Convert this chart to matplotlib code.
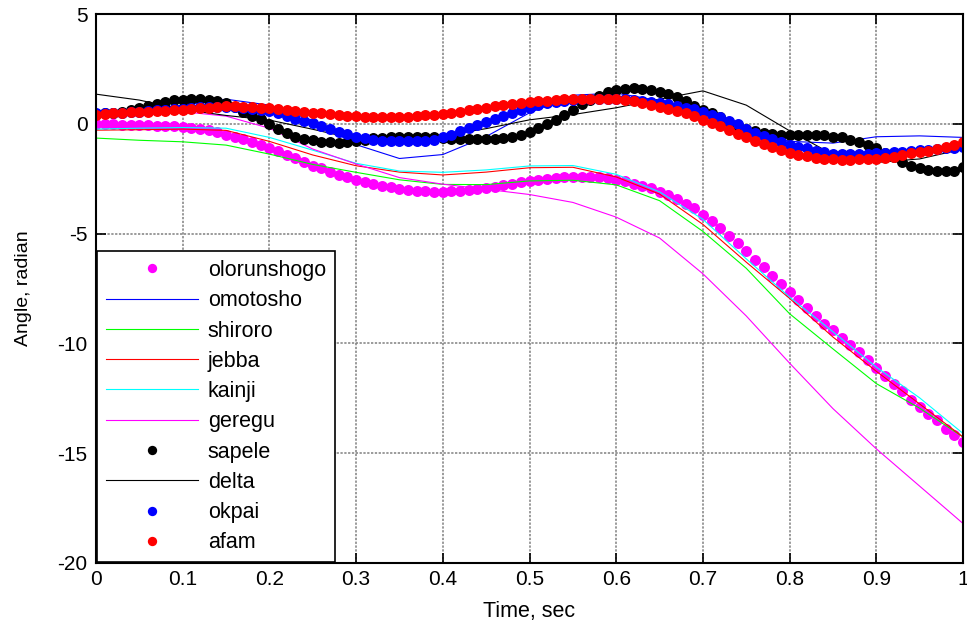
import numpy as np
import matplotlib.pyplot as plt

plt.rcParams['font.family'] = ['Liberation Sans', 'DejaVu Sans']
plt.rcParams['axes.unicode_minus'] = False

# temps (s) : points tous les 0.01 s pour les courbes a marqueurs, 0.05 s pour les lignes
t_dots = np.arange(101) * 0.01
t_line = np.arange(21) * 0.05

olorunshogo = [
    -0.02, -0.02, -0.03, -0.04, -0.05, -0.06, -0.07, -0.09, -0.10, -0.12,
    -0.13, -0.17, -0.22, -0.30, -0.38, -0.50, -0.60, -0.70, -0.84, -0.98,
    -1.12, -1.25, -1.40, -1.55, -1.72, -1.90, -2.02, -2.18, -2.32, -2.42,
    -2.54, -2.64, -2.74, -2.82, -2.90, -2.97, -3.02, -3.05, -3.08, -3.09,
    -3.09, -3.08, -3.05, -3.01, -2.96, -2.92, -2.87, -2.80, -2.72, -2.64,
    -2.60, -2.56, -2.52, -2.48, -2.44, -2.42, -2.41, -2.41, -2.43, -2.49,
    -2.54, -2.62, -2.72, -2.82, -2.92, -3.10, -3.25, -3.42, -3.63, -3.85,
    -4.15, -4.42, -4.75, -5.12, -5.45, -5.80, -6.18, -6.53, -6.91, -7.29,
    -7.67, -8.01, -8.38, -8.73, -9.10, -9.41, -9.74, -10.06, -10.40, -10.75,
    -11.12, -11.47, -11.83, -12.18, -12.56, -12.90, -13.22, -13.50, -13.88, -14.18,
    -14.49]

sapele = [
    0.45, 0.47, 0.50, 0.55, 0.62, 0.70, 0.80, 0.92, 1.01, 1.07,
    1.10, 1.12, 1.12, 1.10, 1.05, 0.95, 0.78, 0.55, 0.36, 0.20,
    0.00, -0.24, -0.43, -0.58, -0.68, -0.75, -0.82, -0.85, -0.86, -0.85,
    -0.80, -0.72, -0.66, -0.63, -0.62, -0.61, -0.60, -0.60, -0.61, -0.62,
    -0.64, -0.67, -0.70, -0.71, -0.71, -0.70, -0.69, -0.66, -0.60, -0.50,
    -0.38, -0.20, -0.02, 0.18, 0.40, 0.65, 0.88, 1.10, 1.28, 1.45,
    1.55, 1.60, 1.62, 1.60, 1.52, 1.44, 1.35, 1.22, 1.03, 0.82,
    0.65, 0.47, 0.29, 0.10, -0.10, -0.22, -0.33, -0.40, -0.46, -0.50,
    -0.52, -0.52, -0.52, -0.52, -0.53, -0.58, -0.62, -0.72, -0.82, -0.95,
    -1.12, -1.32, -1.52, -1.72, -1.90, -2.03, -2.12, -2.16, -2.17, -2.14,
    -1.95]

okpai = [
    0.48, 0.48, 0.49, 0.50, 0.52, 0.55, 0.58, 0.61, 0.64, 0.66,
    0.68, 0.72, 0.76, 0.78, 0.78, 0.77, 0.75, 0.72, 0.68, 0.63,
    0.57, 0.48, 0.36, 0.24, 0.12, 0.02, -0.08, -0.22, -0.36, -0.48,
    -0.58, -0.66, -0.73, -0.77, -0.79, -0.80, -0.80, -0.79, -0.77, -0.72,
    -0.62, -0.50, -0.33, -0.20, -0.06, 0.06, 0.20, 0.34, 0.48, 0.63,
    0.74, 0.84, 0.94, 1.01, 1.06, 1.09, 1.12, 1.14, 1.15, 1.15,
    1.14, 1.12, 1.08, 1.03, 0.98, 0.93, 0.88, 0.81, 0.74, 0.66,
    0.55, 0.42, 0.29, 0.14, -0.02, -0.22, -0.42, -0.57, -0.70, -0.82,
    -0.97, -1.05, -1.12, -1.22, -1.30, -1.36, -1.38, -1.38, -1.38, -1.37,
    -1.35, -1.32, -1.30, -1.27, -1.24, -1.21, -1.18, -1.15, -1.12, -1.10,
    -1.05]

afam = [
    0.42, 0.44, 0.47, 0.50, 0.52, 0.54, 0.56, 0.58, 0.60, 0.61,
    0.63, 0.67, 0.71, 0.74, 0.77, 0.79, 0.79, 0.78, 0.76, 0.73,
    0.71, 0.68, 0.64, 0.60, 0.56, 0.51, 0.47, 0.43, 0.40, 0.37,
    0.34, 0.32, 0.31, 0.30, 0.30, 0.31, 0.33, 0.35, 0.38, 0.41,
    0.45, 0.50, 0.55, 0.61, 0.67, 0.73, 0.79, 0.84, 0.89, 0.96,
    1.00, 1.03, 1.06, 1.09, 1.11, 1.13, 1.14, 1.15, 1.15, 1.14,
    1.11, 1.07, 1.02, 0.96, 0.86, 0.75, 0.66, 0.57, 0.47, 0.34,
    0.18, 0.04, -0.12, -0.28, -0.46, -0.62, -0.77, -0.92, -1.05, -1.20,
    -1.33, -1.42, -1.48, -1.55, -1.60, -1.62, -1.63, -1.63, -1.62, -1.61,
    -1.59, -1.55, -1.50, -1.42, -1.35, -1.29, -1.23, -1.15, -1.06, -0.96,
    -0.85]

omotosho = [0.50, 0.60, 0.85, 1.12, 0.85, 0.15, -0.95, -1.58, -1.40, -0.58, 0.50,
            1.30, 1.40, 1.05, 0.55, -0.15, -0.80, -0.88, -0.59, -0.55, -0.62]
shiroro = [-0.65, -0.75, -0.82, -0.97, -1.38, -1.85, -2.21, -2.55, -2.76, -2.77, -2.60,
           -2.57, -2.78, -3.50, -4.90, -6.58, -8.65, -10.25, -11.83, -12.95, -14.26]
jebba = [-0.29, -0.27, -0.24, -0.30, -0.80, -1.42, -1.91, -2.20, -2.33, -2.20, -2.00,
         -1.98, -2.42, -3.20, -4.58, -6.30, -7.95, -9.71, -11.27, -12.76, -14.26]
kainji = [-0.24, -0.20, -0.17, -0.20, -0.62, -1.20, -1.80, -2.15, -2.21, -2.10, -1.92,
          -1.90, -2.30, -3.10, -4.35, -6.15, -7.89, -9.47, -11.08, -12.48, -14.10]
geregu = [0.45, 0.55, 0.55, 0.35, -0.20, -1.15, -1.83, -2.45, -2.75, -2.98, -3.22,
          -3.58, -4.25, -5.20, -6.83, -8.75, -10.90, -12.97, -14.80, -16.50, -18.20]
delta = [1.35, 1.08, 0.65, 0.38, 0.17, -0.25, -0.70, -0.68, -0.55, -0.22, 0.18,
         0.42, 0.73, 1.12, 1.50, 0.85, -0.32, -1.40, -1.76, -1.60, -1.15]

fig = plt.figure(figsize=(9.67, 6.26), dpi=100)
ax = fig.add_axes([96 / 967, 1 - 563 / 626, 867 / 967, 549 / 626])

ms = 7.9
lw = 0.8
ax.plot(t_dots, olorunshogo, 'o', color='#ff00ff', ms=ms, mec='none', label='olorunshogo')
ax.plot(t_line, omotosho, '-', color='#0000ff', lw=lw, label='omotosho')
ax.plot(t_line, shiroro, '-', color='#00ff00', lw=lw, label='shiroro')
ax.plot(t_line, jebba, '-', color='#ff0000', lw=lw, label='jebba')
ax.plot(t_line, kainji, '-', color='#00ffff', lw=lw, label='kainji')
ax.plot(t_line, geregu, '-', color='#ff00ff', lw=lw, label='geregu')
ax.plot(t_dots, sapele, 'o', color='black', ms=ms, mec='none', label='sapele')
ax.plot(t_line, delta, '-', color='black', lw=lw, label='delta')
ax.plot(t_dots, okpai, 'o', color='#0000ff', ms=ms, mec='none', label='okpai')
ax.plot(t_dots, afam, 'o', color='#ff0000', ms=ms, mec='none', label='afam')

ax.set_xlim(0, 1)
ax.set_ylim(-20, 5)
ax.set_xticks(np.arange(11) * 0.1)
ax.set_xticklabels(['0', '0.1', '0.2', '0.3', '0.4', '0.5', '0.6', '0.7', '0.8', '0.9', '1'])
ax.set_yticks([-20, -15, -10, -5, 0, 5])
ax.tick_params(direction='in', top=True, right=True, labelsize=15, length=7, width=1.2)
ax.tick_params(axis='x', pad=5)
ax.tick_params(axis='y', pad=6)
ax.grid(True, color='0.5', linestyle=(0, (1.5, 1)), linewidth=1.1)
for s in ax.spines.values():
    s.set_linewidth(1.5)

ax.set_xlabel('Time, sec', fontsize=15.5, labelpad=9)
ax.set_ylabel('Angle, radian', fontsize=14, labelpad=18)

leg = ax.legend(loc='lower left', bbox_to_anchor=(0, 0), borderaxespad=0.05,
                fancybox=False, edgecolor='black', framealpha=1, fontsize=15.5,
                handlelength=4.3, handletextpad=0.45, labelspacing=0.43, borderpad=0.4,
                markerscale=0.85)
leg.get_frame().set_linewidth(1.2)

fig.savefig('out.png', dpi=100)
